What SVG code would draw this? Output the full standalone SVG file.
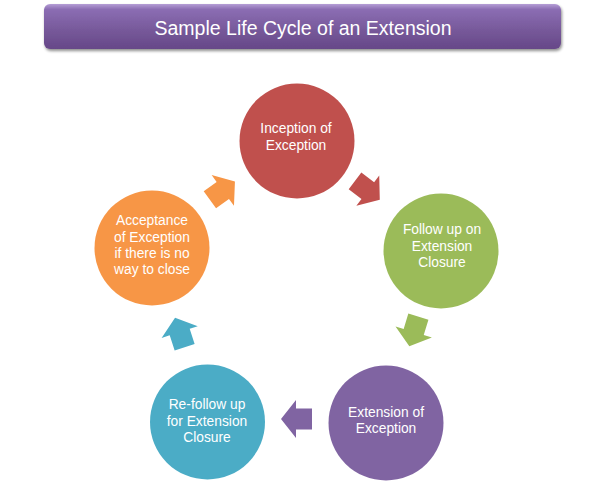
<svg xmlns="http://www.w3.org/2000/svg" width="593" height="485" viewBox="0 0 593 485">
<defs>
<linearGradient id="tg" x1="0" y1="0" x2="0" y2="1">
<stop offset="0" stop-color="#b59ed6"/>
<stop offset="0.12" stop-color="#8b6db3"/>
<stop offset="0.6" stop-color="#765899"/>
<stop offset="1" stop-color="#664788"/>
</linearGradient>
<filter id="sh" x="-5%" y="-20%" width="110%" height="150%">
<feGaussianBlur in="SourceAlpha" stdDeviation="1.5"/>
<feOffset dx="1" dy="2" result="b"/>
<feComponentTransfer><feFuncA type="linear" slope="0.45"/></feComponentTransfer>
<feMerge><feMergeNode/><feMergeNode in="SourceGraphic"/></feMerge>
</filter>
<polygon id="arr" points="-15,-10.5 1,-10.5 1,-19 16,0 1,19 1,10.5 -15,10.5"/>
</defs>
<style>
.t{font-family:"Liberation Sans",Arial,sans-serif;font-size:13.8px;fill:#ffffff;text-anchor:middle}
.title{font-family:"Liberation Sans",Arial,sans-serif;font-size:19.5px;fill:#ffffff;text-anchor:middle}
</style>
<rect width="593" height="485" fill="#ffffff"/>
<g id="title">
<rect x="44" y="4" width="517" height="45" rx="6" fill="url(#tg)" filter="url(#sh)"/>
<text class="title" x="303" y="35">Sample Life Cycle of an Extension</text>
</g>
<g id="connectors">
<use href="#arr" fill="#c0504d" transform="translate(367,190) rotate(37)"/>
<use href="#arr" fill="#9bbb59" transform="translate(414,331) rotate(107)"/>
<use href="#arr" fill="#8064a2" transform="translate(297,419) rotate(180)"/>
<use href="#arr" fill="#4bacc6" transform="translate(180,333) rotate(252)"/>
<use href="#arr" fill="#f79646" transform="translate(222,191) rotate(324)"/>
</g>
<g id="n1">
<circle cx="297" cy="141" r="57.5" fill="#c0504d"/>
<text class="t" x="296" y="133">Inception of</text>
<text class="t" x="296" y="150">Exception</text>
</g>
<g id="n2">
<circle cx="441" cy="251" r="57.5" fill="#9bbb59"/>
<text class="t" x="442" y="234">Follow up on</text>
<text class="t" x="442" y="251">Extension</text>
<text class="t" x="442" y="267">Closure</text>
</g>
<g id="n3">
<circle cx="386" cy="423" r="57.5" fill="#8064a2"/>
<text class="t" x="386" y="417">Extension of</text>
<text class="t" x="386" y="433">Exception</text>
</g>
<g id="n4">
<circle cx="207.5" cy="422" r="57.5" fill="#4bacc6"/>
<text class="t" x="207" y="409">Re-follow up</text>
<text class="t" x="207" y="426">for Extension</text>
<text class="t" x="207" y="442">Closure</text>
</g>
<g id="n5">
<circle cx="152" cy="248" r="57.5" fill="#f79646"/>
<text class="t" x="152" y="225">Acceptance</text>
<text class="t" x="152" y="242">of Exception</text>
<text class="t" x="152" y="258">if there is no</text>
<text class="t" x="152" y="274">way to close</text>
</g>
</svg>
